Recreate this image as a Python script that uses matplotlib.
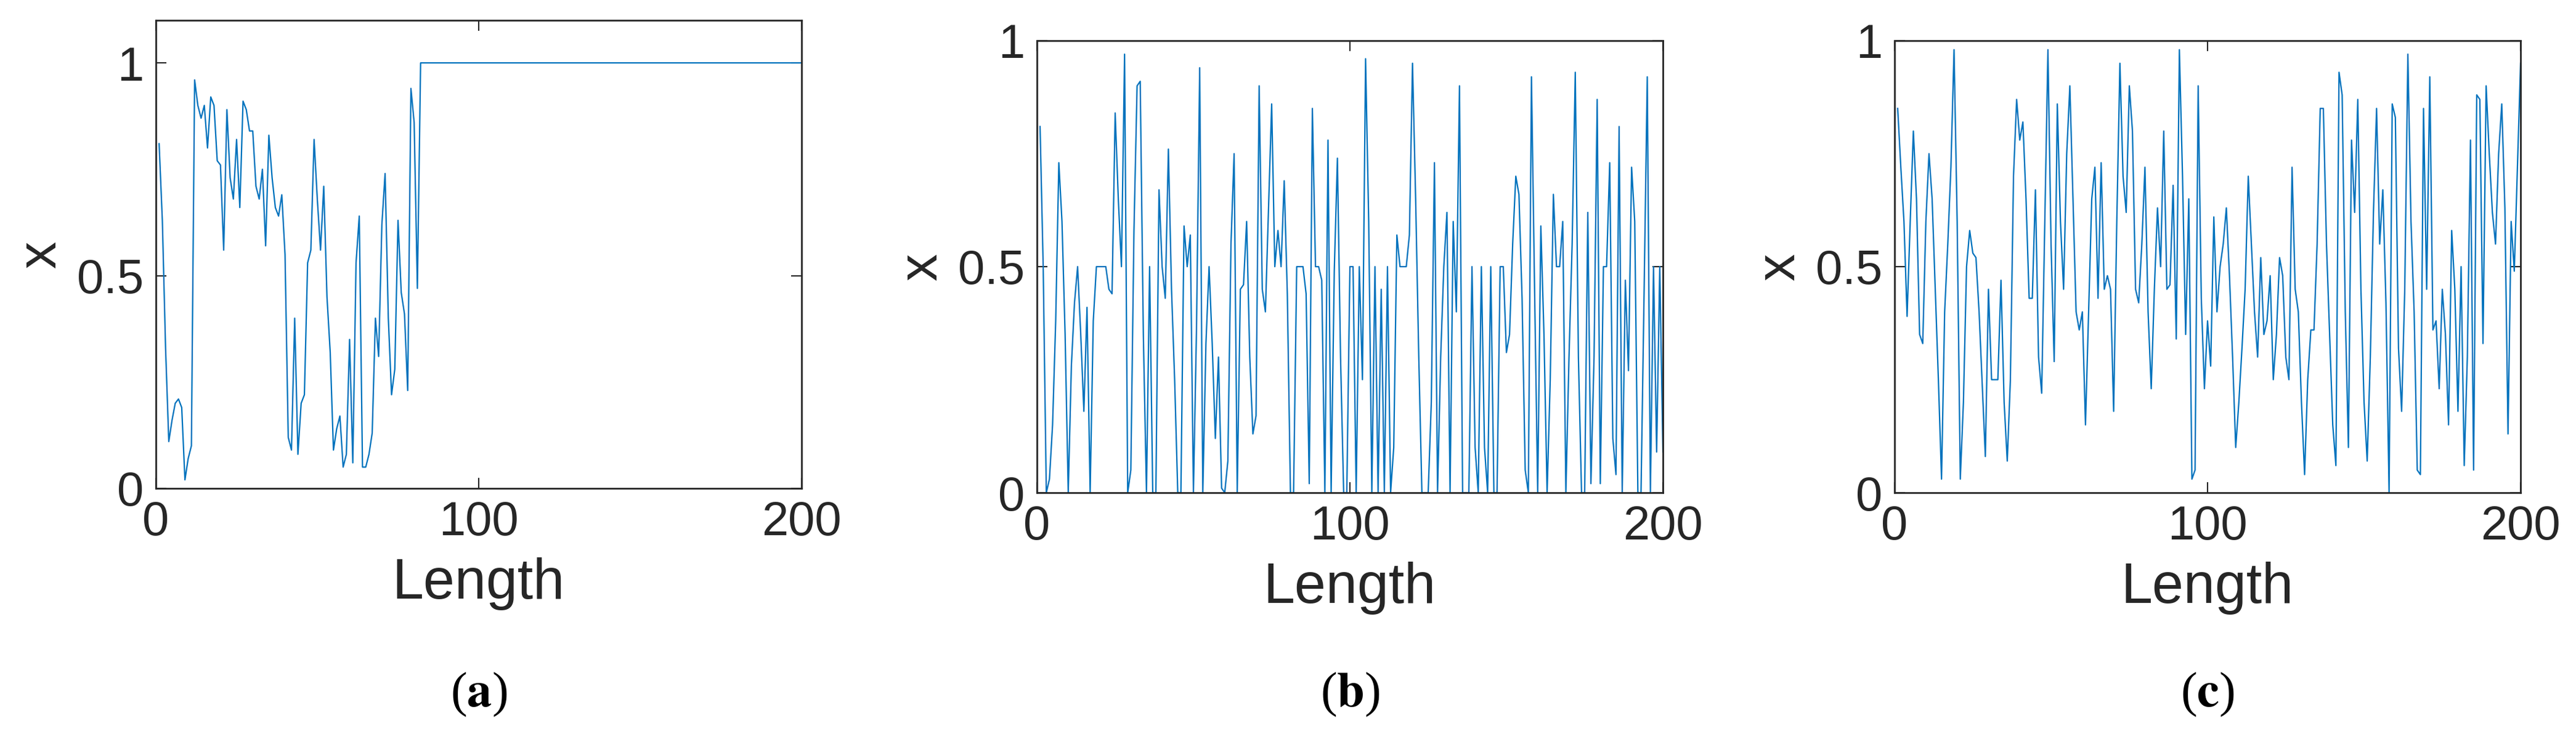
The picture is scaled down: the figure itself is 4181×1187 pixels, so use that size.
#!/usr/bin/env python3
"""
Three chaotic sequences x over length 200, panels (a) (b) (c)
"""

import numpy as np
import matplotlib
matplotlib.use('Agg')
import matplotlib.pyplot as plt

# values
seq_a_head = [0.81, 0.63, 0.33, 0.11, 0.16, 0.20, 0.21, 0.19, 0.02, 0.07,
              0.10, 0.96, 0.90, 0.87, 0.90, 0.80, 0.92, 0.90, 0.77, 0.76,
              0.56, 0.89, 0.73, 0.68, 0.82, 0.66, 0.91, 0.89, 0.84, 0.84,
              0.71, 0.68, 0.75, 0.57, 0.83, 0.73, 0.66, 0.64, 0.69, 0.55,
              0.12, 0.09, 0.40, 0.08, 0.20, 0.22, 0.53, 0.56, 0.82, 0.68,
              0.56, 0.71, 0.45, 0.32, 0.09, 0.14, 0.17, 0.05, 0.08, 0.35,
              0.06, 0.53, 0.64, 0.05, 0.05, 0.08, 0.13, 0.40, 0.31, 0.62,
              0.74, 0.40, 0.22, 0.28, 0.63, 0.46, 0.41, 0.23, 0.94, 0.86,
              0.47]
seq_a = seq_a_head + [1.0] * (200 - len(seq_a_head))

seq_b = [0.81, 0.50, 0.00, 0.03, 0.15, 0.38, 0.73, 0.60, 0.35, 0.00,
         0.28, 0.42, 0.50, 0.35, 0.18, 0.41, 0.00, 0.38, 0.50, 0.50,
         0.50, 0.50, 0.45, 0.44, 0.84, 0.65, 0.50, 0.97, 0.00, 0.05,
         0.58, 0.90, 0.91, 0.35, 0.00, 0.50, 0.00, 0.00, 0.67, 0.50,
         0.43, 0.76, 0.45, 0.25, 0.00, 0.00, 0.59, 0.50, 0.57, 0.00,
         0.37, 0.94, 0.00, 0.33, 0.50, 0.33, 0.12, 0.30, 0.01, 0.00,
         0.07, 0.55, 0.75, 0.00, 0.45, 0.46, 0.60, 0.30, 0.13, 0.17,
         0.90, 0.45, 0.40, 0.63, 0.86, 0.50, 0.58, 0.50, 0.69, 0.44,
         0.00, 0.00, 0.50, 0.50, 0.50, 0.44, 0.02, 0.85, 0.50, 0.50,
         0.47, 0.00, 0.78, 0.00, 0.49, 0.74, 0.30, 0.00, 0.00, 0.50,
         0.50, 0.00, 0.50, 0.25, 0.96, 0.60, 0.00, 0.50, 0.00, 0.45,
         0.00, 0.50, 0.00, 0.10, 0.57, 0.50, 0.50, 0.50, 0.57, 0.95,
         0.65, 0.30, 0.00, 0.00, 0.00, 0.20, 0.73, 0.00, 0.30, 0.50,
         0.62, 0.00, 0.60, 0.40, 0.90, 0.00, 0.00, 0.00, 0.50, 0.10,
         0.00, 0.50, 0.10, 0.00, 0.50, 0.00, 0.00, 0.50, 0.50, 0.31,
         0.35, 0.55, 0.70, 0.66, 0.43, 0.05, 0.00, 0.92, 0.45, 0.00,
         0.59, 0.35, 0.00, 0.25, 0.66, 0.50, 0.50, 0.60, 0.00, 0.30,
         0.55, 0.93, 0.30, 0.00, 0.00, 0.62, 0.02, 0.30, 0.87, 0.02,
         0.50, 0.50, 0.73, 0.12, 0.04, 0.81, 0.00, 0.47, 0.27, 0.72,
         0.60, 0.00, 0.00, 0.45, 0.92, 0.00, 0.50, 0.09, 0.50, 0.09]

seq_c = [0.85, 0.72, 0.60, 0.39, 0.60, 0.80, 0.65, 0.35, 0.33, 0.60,
         0.75, 0.65, 0.45, 0.25, 0.03, 0.40, 0.55, 0.72, 0.98, 0.60,
         0.03, 0.20, 0.50, 0.58, 0.53, 0.52, 0.40, 0.24, 0.08, 0.45,
         0.25, 0.25, 0.25, 0.47, 0.20, 0.07, 0.25, 0.70, 0.87, 0.78,
         0.82, 0.65, 0.43, 0.43, 0.67, 0.30, 0.22, 0.60, 0.98, 0.55,
         0.29, 0.86, 0.60, 0.45, 0.75, 0.90, 0.65, 0.40, 0.36, 0.40,
         0.15, 0.40, 0.65, 0.72, 0.43, 0.73, 0.45, 0.48, 0.45, 0.18,
         0.60, 0.95, 0.70, 0.62, 0.90, 0.80, 0.45, 0.42, 0.55, 0.72,
         0.40, 0.23, 0.45, 0.63, 0.50, 0.80, 0.45, 0.46, 0.68, 0.34,
         0.98, 0.70, 0.35, 0.65, 0.03, 0.05, 0.90, 0.43, 0.23, 0.38,
         0.28, 0.61, 0.40, 0.50, 0.55, 0.63, 0.48, 0.30, 0.10, 0.20,
         0.32, 0.45, 0.70, 0.55, 0.40, 0.30, 0.52, 0.35, 0.38, 0.48,
         0.25, 0.35, 0.52, 0.48, 0.30, 0.25, 0.72, 0.45, 0.40, 0.20,
         0.04, 0.25, 0.36, 0.36, 0.55, 0.85, 0.85, 0.55, 0.35, 0.15,
         0.06, 0.93, 0.88, 0.40, 0.10, 0.78, 0.62, 0.87, 0.45, 0.20,
         0.07, 0.30, 0.62, 0.85, 0.55, 0.67, 0.42, 0.00, 0.86, 0.83,
         0.32, 0.18, 0.45, 0.97, 0.60, 0.40, 0.05, 0.04, 0.85, 0.45,
         0.92, 0.36, 0.38, 0.23, 0.45, 0.35, 0.15, 0.58, 0.45, 0.18,
         0.50, 0.06, 0.30, 0.78, 0.05, 0.88, 0.87, 0.33, 0.90, 0.75,
         0.62, 0.55, 0.75, 0.86, 0.63, 0.13, 0.60, 0.49, 0.72, 0.95]

panel_letters = ['a', 'b', 'c']
x_ticks = [0, 100, 200]

LINE_COLOR = '#0072BD'
W, H = 4181, 1187

plt.rcParams['font.family'] = ['Liberation Sans', 'DejaVu Sans']
plt.rcParams['mathtext.fontset'] = 'stix'
fig = plt.figure(figsize=(W / 100, H / 100), dpi=100)

# axes boxes in pixels: left, right, top, bottom
boxes = [(253, 1301, 33, 793), (1683, 2699, 66, 800), (3075, 4091, 66, 800)]
ylims = [(0, 1.1), (0, 1), (0, 1)]
series = [seq_a, seq_b, seq_c]

for box, ylim, y, letter in zip(boxes, ylims, series, panel_letters):
    l, r, t, b = box
    ax = fig.add_axes([l / W, 1 - b / H, (r - l) / W, (b - t) / H])
    x = np.arange(1, len(y) + 1)
    ax.plot(x, y, color=LINE_COLOR, linewidth=1.6)
    ax.set_xlim(0, 200)
    ax.set_ylim(*ylim)
    ax.set_xticks(x_ticks)
    ax.set_yticks([0, 0.5, 1])
    ax.set_yticklabels(['0', '0.5', '1'])
    ax.tick_params(direction='in', top=True, right=True, length=12, width=1.5,
                   labelsize=56, colors='#262626', pad=14)
    for s in ax.spines.values():
        s.set_linewidth(2)
        s.set_color('#262626')
    ax.set_xlabel('Length', fontsize=66, color='#262626', labelpad=14)
    ax.set_ylabel('x', fontsize=64, color='#262626', labelpad=12)
    cx = (l + r) / 2 / W
    fig.text(cx, 1 - 1128 / H, r'($\mathbf{%s}$)' % letter, fontsize=58,
             family='Liberation Serif', ha='center', va='center')

fig.savefig('out.png', dpi=100)
